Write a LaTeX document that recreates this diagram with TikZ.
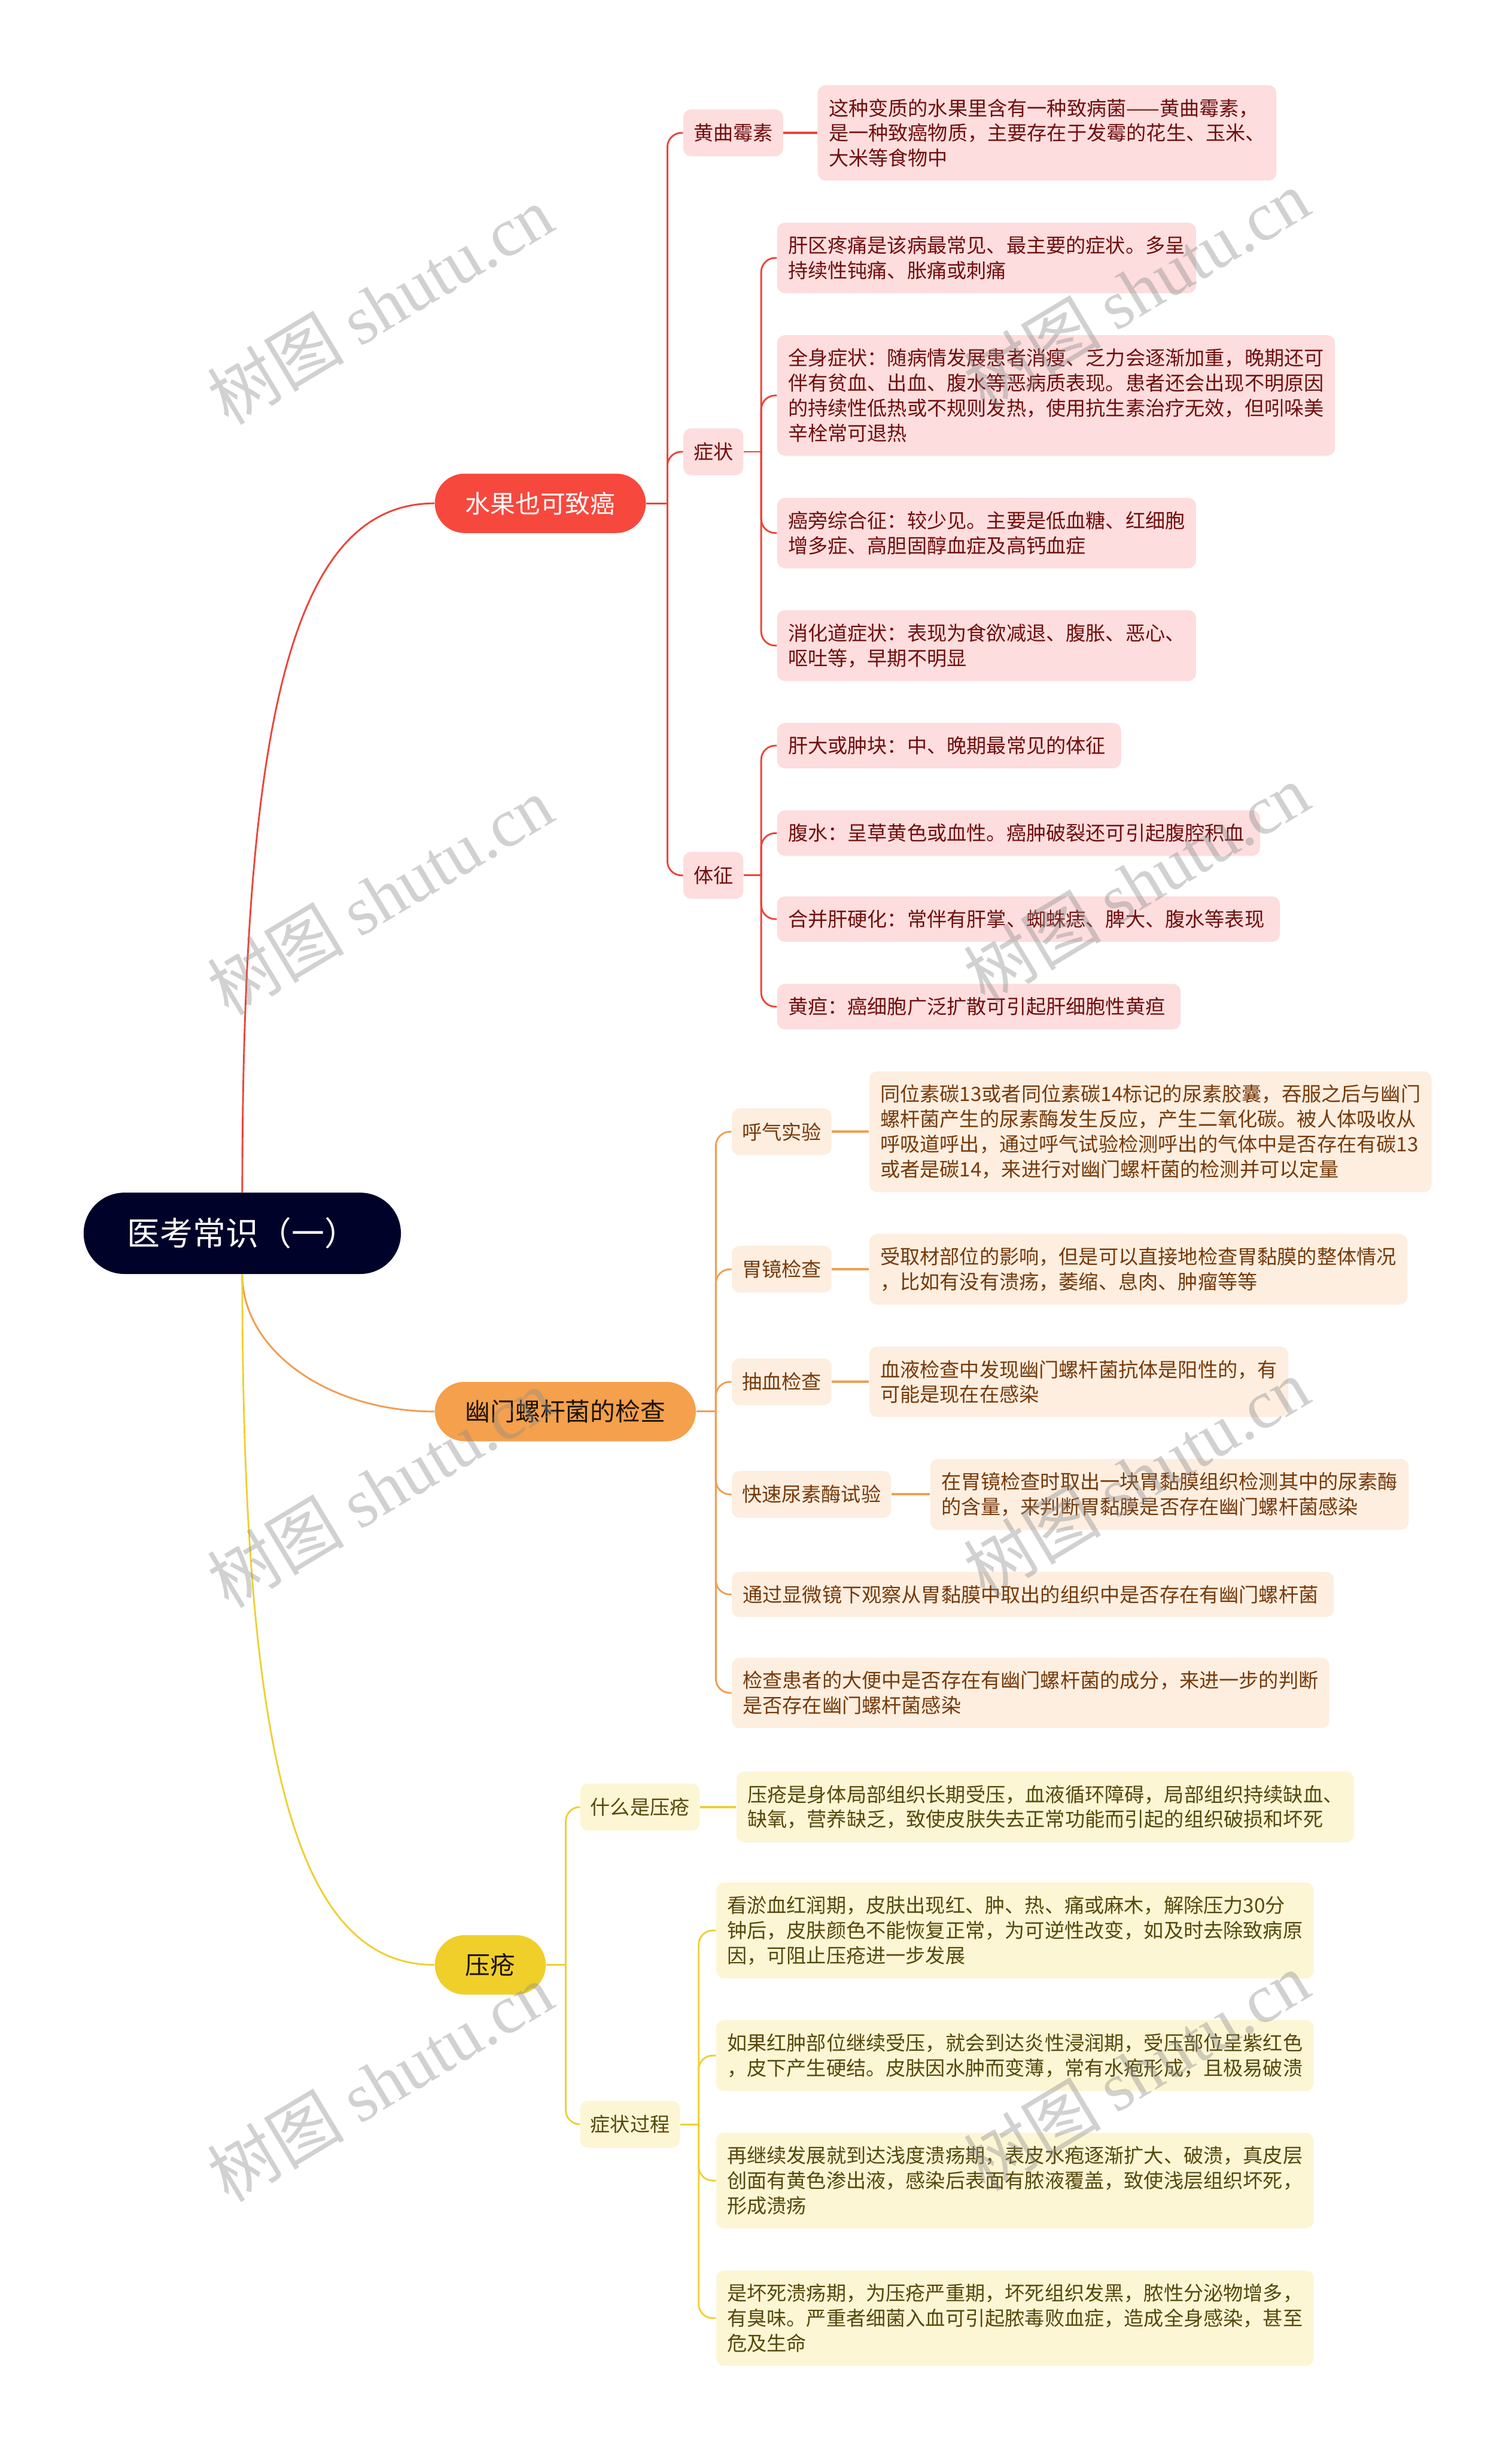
\documentclass[tikz,border=0pt]{standalone}
\usepackage{fontspec}
\setmainfont{Noto Sans CJK SC}
\newfontfamily\wmfont{Liberation Serif}
\usetikzlibrary{positioning}
\usepackage{xcolor}

\definecolor{rootfill}{RGB}{0,2,41}
\definecolor{redmain}{RGB}{247,72,62}
\definecolor{redline}{RGB}{236,68,58}
\definecolor{redleaf}{RGB}{253,221,221}
\definecolor{redtext}{RGB}{112,14,14}
\definecolor{orangemain}{RGB}{244,160,76}
\definecolor{orangeline}{RGB}{240,158,80}
\definecolor{orangeleaf}{RGB}{253,238,224}
\definecolor{orangetext}{RGB}{118,58,10}
\definecolor{yellowmain}{RGB}{240,207,43}
\definecolor{yellowline}{RGB}{238,208,50}
\definecolor{yellowleaf}{RGB}{253,246,212}
\definecolor{yellowtext}{RGB}{86,72,12}

\begin{document}
\begin{tikzpicture}[x=1pt, y=-1pt,
    root_box/.style={rectangle, rounded corners=26pt, fill=rootfill, text=white,
        font=\fontsize{21}{25}\selectfont, minimum height=52pt, inner xsep=28pt},
    main_box/.style={rectangle, rounded corners=19pt, minimum height=38pt, inner xsep=19.5pt,
        font=\fontsize{16}{20}\selectfont, anchor=west},
    sub_box/.style={rectangle, rounded corners=5pt, minimum height=30pt, inner xsep=6.5pt,
        font=\fontsize{12.7}{16}\selectfont, anchor=west},
    leaf_box/.style={rectangle, rounded corners=5pt, inner xsep=7pt, inner ysep=8.6pt, align=left,
        font=\fontsize{12.7}{16}\selectfont, anchor=west},
    red_sub/.style={sub_box, fill=redleaf, text=redtext},
    red_leaf/.style={leaf_box, fill=redleaf, text=redtext},
    orange_sub/.style={sub_box, fill=orangeleaf, text=orangetext},
    orange_leaf/.style={leaf_box, fill=orangeleaf, text=orangetext},
    yellow_sub/.style={sub_box, fill=yellowleaf, text=yellowtext},
    yellow_leaf/.style={leaf_box, fill=yellowleaf, text=yellowtext},
    red_link/.style={redline, line width=1.1pt},
    orange_link/.style={orangeline, line width=1.1pt},
    yellow_link/.style={yellowline, line width=1.1pt},
    watermark/.style={text=black!45, opacity=0.4, rotate=31, font=\fontsize{44}{44}\selectfont}
]
    \fill[white] (0,0) rectangle (967,1568);
    \useasboundingbox (0,0) rectangle (967,1568);

    \node (yikao) [root_box, shift={(155,789)}]
    {
        医考常识（一）
    };

    \node (shuiguo) [main_box, fill=redmain, text=white, shift={(278,322)}]
    {
        水果也可致癌
    };
    \node (youmen) [main_box, fill=orangemain, text=black!85!brown, shift={(278,903)}]
    {
        幽门螺杆菌的检查
    };
    \node (yachuang) [main_box, fill=yellowmain, text=black!85!brown, shift={(278,1257)}]
    {
        压疮
    };

    % 水果也可致癌
    \node (huangqu) [red_sub, shift={(437,85)}] {黄曲霉素};
    \node (zhengzhuang) [red_sub, shift={(437,289)}] {症状};
    \node (tizheng) [red_sub, shift={(437,560)}] {体征};

    \node (huangqu_text) [red_leaf, shift={(523,85)}]
    {
        这种变质的水果里含有一种致病菌——黄曲霉素，\\是一种致癌物质，主要存在于发霉的花生、玉米、\\大米等食物中
    };
    \node (zz_liver_pain) [red_leaf, shift={(497,165)}]
    {
        肝区疼痛是该病最常见、最主要的症状。多呈\\持续性钝痛、胀痛或刺痛
    };
    \node (zz_whole_body) [red_leaf, shift={(497,253)}]
    {
        全身症状：随病情发展患者消瘦、乏力会逐渐加重，晚期还可\\伴有贫血、出血、腹水等恶病质表现。患者还会出现不明原因\\的持续性低热或不规则发热，使用抗生素治疗无效，但吲哚美\\辛栓常可退热
    };
    \node (zz_paraneo) [red_leaf, shift={(497,341)}]
    {
        癌旁综合征：较少见。主要是低血糖、红细胞\\增多症、高胆固醇血症及高钙血症
    };
    \node (zz_digest) [red_leaf, shift={(497,413)}]
    {
        消化道症状：表现为食欲减退、腹胀、恶心、\\呕吐等，早期不明显
    };
    \node (tz_liver_mass) [red_leaf, shift={(497,477)}]
    {
        肝大或肿块：中、晚期最常见的体征
    };
    \node (tz_ascites) [red_leaf, shift={(497,533)}]
    {
        腹水：呈草黄色或血性。癌肿破裂还可引起腹腔积血
    };
    \node (tz_cirrhosis) [red_leaf, shift={(497,588)}]
    {
        合并肝硬化：常伴有肝掌、蜘蛛痣、脾大、腹水等表现
    };
    \node (tz_jaundice) [red_leaf, shift={(497,644)}]
    {
        黄疸：癌细胞广泛扩散可引起肝细胞性黄疸
    };

    % 幽门螺杆菌的检查
    \node (huqi) [orange_sub, shift={(468,724)}] {呼气实验};
    \node (weijing) [orange_sub, shift={(468,812)}] {胃镜检查};
    \node (chouxue) [orange_sub, shift={(468,884)}] {抽血检查};
    \node (kuaisu) [orange_sub, shift={(468,956)}] {快速尿素酶试验};
    \node (xianweijing) [orange_leaf, shift={(468,1020)}]
    {
        通过显微镜下观察从胃黏膜中取出的组织中是否存在有幽门螺杆菌
    };
    \node (dabian) [orange_leaf, shift={(468,1083)}]
    {
        检查患者的大便中是否存在有幽门螺杆菌的成分，来进一步的判断\\是否存在幽门螺杆菌感染
    };

    \node (huqi_text) [orange_leaf, shift={(556,724)}]
    {
        同位素碳13或者同位素碳14标记的尿素胶囊，吞服之后与幽门\\螺杆菌产生的尿素酶发生反应，产生二氧化碳。被人体吸收从\\呼吸道呼出，通过呼气试验检测呼出的气体中是否存在有碳13\\或者是碳14，来进行对幽门螺杆菌的检测并可以定量
    };
    \node (weijing_text) [orange_leaf, shift={(556,812)}]
    {
        受取材部位的影响，但是可以直接地检查胃黏膜的整体情况\\，比如有没有溃疡，萎缩、息肉、肿瘤等等
    };
    \node (chouxue_text) [orange_leaf, shift={(556,884)}]
    {
        血液检查中发现幽门螺杆菌抗体是阳性的，有\\可能是现在在感染
    };
    \node (kuaisu_text) [orange_leaf, shift={(595,956)}]
    {
        在胃镜检查时取出一块胃黏膜组织检测其中的尿素酶\\的含量，来判断胃黏膜是否存在幽门螺杆菌感染
    };

    % 压疮
    \node (shenme) [yellow_sub, shift={(371,1156)}] {什么是压疮};
    \node (guocheng) [yellow_sub, shift={(371,1359)}] {症状过程};

    \node (shenme_text) [yellow_leaf, shift={(471,1156)}]
    {
        压疮是身体局部组织长期受压，血液循环障碍，局部组织持续缺血、\\缺氧，营养缺乏，致使皮肤失去正常功能而引起的组织破损和坏死
    };
    \node (gc_stage1) [yellow_leaf, shift={(458,1235)}]
    {
        看淤血红润期，皮肤出现红、肿、热、痛或麻木，解除压力30分\\钟后，皮肤颜色不能恢复正常，为可逆性改变，如及时去除致病原\\因，可阻止压疮进一步发展
    };
    \node (gc_stage2) [yellow_leaf, shift={(458,1315)}]
    {
        如果红肿部位继续受压，就会到达炎性浸润期，受压部位呈紫红色\\，皮下产生硬结。皮肤因水肿而变薄，常有水疱形成，且极易破溃
    };
    \node (gc_stage3) [yellow_leaf, shift={(458,1395)}]
    {
        再继续发展就到达浅度溃疡期，表皮水疱逐渐扩大、破溃，真皮层\\创面有黄色渗出液，感染后表面有脓液覆盖，致使浅层组织坏死，\\形成溃疡
    };
    \node (gc_stage4) [yellow_leaf, shift={(458,1483)}]
    {
        是坏死溃疡期，为压疮严重期，坏死组织发黑，脓性分泌物增多，\\有臭味。严重者细菌入血可引起脓毒败血症，造成全身感染，甚至\\危及生命
    };

    \coordinate (shuiguo_fork) at (427,322);
    \coordinate (zhengzhuang_fork) at (487,289);
    \coordinate (tizheng_fork) at (487,560);
    \coordinate (youmen_fork) at (458,903);
    \coordinate (yachuang_fork) at (362,1257);
    \coordinate (guocheng_fork) at (447,1359);

    \draw[red_link] (yikao.north) .. controls (155,450) and (190,322) .. (shuiguo.west);
    \draw[orange_link] (yikao.south) .. controls (155,864) and (210,903) .. (youmen.west);
    \draw[yellow_link] (yikao.south) .. controls (155,1128) and (190,1257) .. (yachuang.west);

    \draw[red_link] (shuiguo.east) to (shuiguo_fork);
    \draw[red_link, rounded corners=9pt] (shuiguo_fork) |- (huangqu.west);
    \draw[red_link, rounded corners=9pt] (shuiguo_fork) |- (zhengzhuang.west);
    \draw[red_link, rounded corners=9pt] (shuiguo_fork) |- (tizheng.west);
    \draw[red_link, line width=1.5pt] (huangqu.east) to (huangqu_text.west);
    \draw[red_link] (zhengzhuang.east) to (zhengzhuang_fork);
    \draw[red_link, rounded corners=9pt] (zhengzhuang_fork) |- (zz_liver_pain.west);
    \draw[red_link, rounded corners=9pt] (zhengzhuang_fork) |- (zz_whole_body.west);
    \draw[red_link, rounded corners=9pt] (zhengzhuang_fork) |- (zz_paraneo.west);
    \draw[red_link, rounded corners=9pt] (zhengzhuang_fork) |- (zz_digest.west);
    \draw[red_link] (tizheng.east) to (tizheng_fork);
    \draw[red_link, rounded corners=9pt] (tizheng_fork) |- (tz_liver_mass.west);
    \draw[red_link, rounded corners=9pt] (tizheng_fork) |- (tz_ascites.west);
    \draw[red_link, rounded corners=9pt] (tizheng_fork) |- (tz_cirrhosis.west);
    \draw[red_link, rounded corners=9pt] (tizheng_fork) |- (tz_jaundice.west);

    \draw[orange_link] (youmen.east) to (youmen_fork);
    \draw[orange_link, rounded corners=9pt] (youmen_fork) |- (huqi.west);
    \draw[orange_link, rounded corners=9pt] (youmen_fork) |- (weijing.west);
    \draw[orange_link, rounded corners=9pt] (youmen_fork) |- (chouxue.west);
    \draw[orange_link, rounded corners=9pt] (youmen_fork) |- (kuaisu.west);
    \draw[orange_link, rounded corners=9pt] (youmen_fork) |- (xianweijing.west);
    \draw[orange_link, rounded corners=9pt] (youmen_fork) |- (dabian.west);
    \draw[orange_link, line width=1.5pt] (huqi.east) to (huqi_text.west);
    \draw[orange_link, line width=1.5pt] (weijing.east) to (weijing_text.west);
    \draw[orange_link, line width=1.5pt] (chouxue.east) to (chouxue_text.west);
    \draw[orange_link, line width=1.5pt] (kuaisu.east) to (kuaisu_text.west);

    \draw[yellow_link] (yachuang.east) to (yachuang_fork);
    \draw[yellow_link, rounded corners=9pt] (yachuang_fork) |- (shenme.west);
    \draw[yellow_link, rounded corners=9pt] (yachuang_fork) |- (guocheng.west);
    \draw[yellow_link, line width=1.5pt] (shenme.east) to (shenme_text.west);
    \draw[yellow_link] (guocheng.east) to (guocheng_fork);
    \draw[yellow_link, rounded corners=9pt] (guocheng_fork) |- (gc_stage1.west);
    \draw[yellow_link, rounded corners=9pt] (guocheng_fork) |- (gc_stage2.west);
    \draw[yellow_link, rounded corners=9pt] (guocheng_fork) |- (gc_stage3.west);
    \draw[yellow_link, rounded corners=9pt] (guocheng_fork) |- (gc_stage4.west);

    % watermarks
    \node (wm_left_1) [shift={(243,195)}, watermark] {树图 {\wmfont shutu.cn}};
    \node (wm_right_1) [shift={(727,185)}, watermark] {树图 {\wmfont shutu.cn}};
    \node (wm_left_2) [shift={(243,573)}, watermark] {树图 {\wmfont shutu.cn}};
    \node (wm_right_2) [shift={(727,565)}, watermark] {树图 {\wmfont shutu.cn}};
    \node (wm_left_3) [shift={(243,952)}, watermark] {树图 {\wmfont shutu.cn}};
    \node (wm_right_3) [shift={(727,945)}, watermark] {树图 {\wmfont shutu.cn}};
    \node (wm_left_4) [shift={(243,1332)}, watermark] {树图 {\wmfont shutu.cn}};
    \node (wm_right_4) [shift={(727,1325)}, watermark] {树图 {\wmfont shutu.cn}};
\end{tikzpicture}
\end{document}
